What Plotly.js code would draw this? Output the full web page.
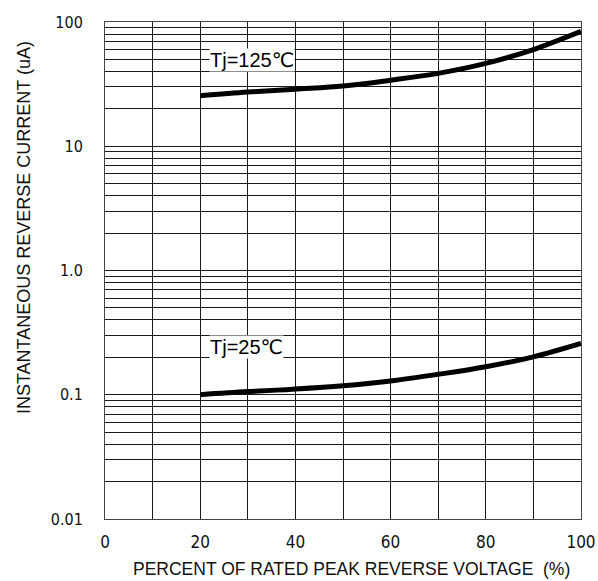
<!DOCTYPE html>
<html>
<head>
<meta charset="utf-8">
<script src="https://cdn.plot.ly/plotly-3.0.1.min.js"></script>
<style>html,body{margin:0;padding:0;background:#fff;}#chart{width:598px;height:581px;}</style>
</head>
<body>
<div id="chart"></div>
<script>
// Data
const voltagePct = [20, 30, 40, 50, 60, 70, 80, 90, 100];
const current125 = [25.5, 27.3, 28.8, 30.5, 34.0, 38.6, 46.4, 60.0, 84.0];
const current25  = [0.100, 0.106, 0.111, 0.118, 0.129, 0.146, 0.168, 0.202, 0.259];
const label125 = 'Tj=125\u2103';
const label25 = 'Tj=25\u2103';
const xTitle = 'PERCENT OF RATED PEAK REVERSE VOLTAGE  (%)';
const yTitle = 'INSTANTANEOUS REVERSE CURRENT (uA)';

const xTickVals = [0, 10, 20, 30, 40, 50, 60, 70, 80, 90, 100];
const xTickText = ['0', '', '20', '', '40', '', '60', '', '80', '', '100'];
const yDecades = [0.01, 0.1, 1, 10, 100];
const yDecadeText = ['0.01', '0.1', '1.0', '10', '100'];

const yTickVals = [];
const yTickText = [];
for (let d = 0; d < yDecades.length; d++) {
  const base = yDecades[d];
  if (d === yDecades.length - 1) { yTickVals.push(base); yTickText.push(yDecadeText[d]); break; }
  for (let m = 1; m <= 9; m++) {
    yTickVals.push(+(base * m).toPrecision(3));
    yTickText.push(m === 1 ? yDecadeText[d] : '');
  }
}

const narrow = '"DejaVu Sans Condensed", "Liberation Sans Narrow", "Arial Narrow", sans-serif';
const sans = '"Liberation Sans", Arial, "DejaVu Sans", sans-serif';

const traces = [
  {x: voltagePct, y: current125, mode: 'lines', line: {color: '#000', width: 5, shape: 'spline'}, hoverinfo: 'none', showlegend: false},
  {x: voltagePct, y: current25, mode: 'lines', line: {color: '#000', width: 5, shape: 'spline'}, hoverinfo: 'none', showlegend: false}
];

const layout = {
  width: 598, height: 581,
  margin: {l: 105, r: 17, t: 22, b: 62},
  paper_bgcolor: '#fff', plot_bgcolor: '#fff',
  showlegend: false,
  xaxis: {
    range: [0, 100], tickvals: xTickVals, ticktext: xTickText,
    showgrid: true, gridcolor: '#1a1a1a', gridwidth: 1,
    showline: true, linecolor: '#444', linewidth: 1, mirror: true,
    zeroline: false, ticks: 'outside', ticklen: 8, tickcolor: 'rgba(0,0,0,0)',
    tickfont: {family: narrow, size: 17, color: '#111'}
  },
  yaxis: {
    type: 'log', range: [-2, 2], tickvals: yTickVals, ticktext: yTickText,
    showgrid: true, gridcolor: '#1a1a1a', gridwidth: 1,
    showline: true, linecolor: '#444', linewidth: 1, mirror: true,
    zeroline: false, ticks: 'outside', ticklen: 18, tickcolor: 'rgba(0,0,0,0)',
    tickfont: {family: narrow, size: 16, color: '#111'}
  },
  annotations: [
    {x: 20, y: Math.log10(49), xref: 'x', yref: 'y', text: label125, showarrow: false, xanchor: 'left', xshift: 9,
     bgcolor: '#fff', borderpad: 0, font: {family: sans, size: 20, color: '#000'}},
    {x: 20, y: Math.log10(0.242), xref: 'x', yref: 'y', text: label25, showarrow: false, xanchor: 'left', xshift: 9,
     bgcolor: '#fff', borderpad: 0, font: {family: sans, size: 20, color: '#000'}},
    {x: 0.517, y: -0.1016, xref: 'paper', yref: 'paper', text: xTitle, showarrow: false, xanchor: 'center', yanchor: 'middle',
     font: {family: sans, size: 17.5, color: '#111'}},
    {x: -0.171, y: 0.5865, xref: 'paper', yref: 'paper', text: yTitle, showarrow: false, textangle: -90, xanchor: 'center', yanchor: 'middle',
     font: {family: sans, size: 18, color: '#111'}}
  ]
};

Plotly.newPlot('chart', traces, layout, {staticPlot: true, displayModeBar: false});
</script>
</body>
</html>
